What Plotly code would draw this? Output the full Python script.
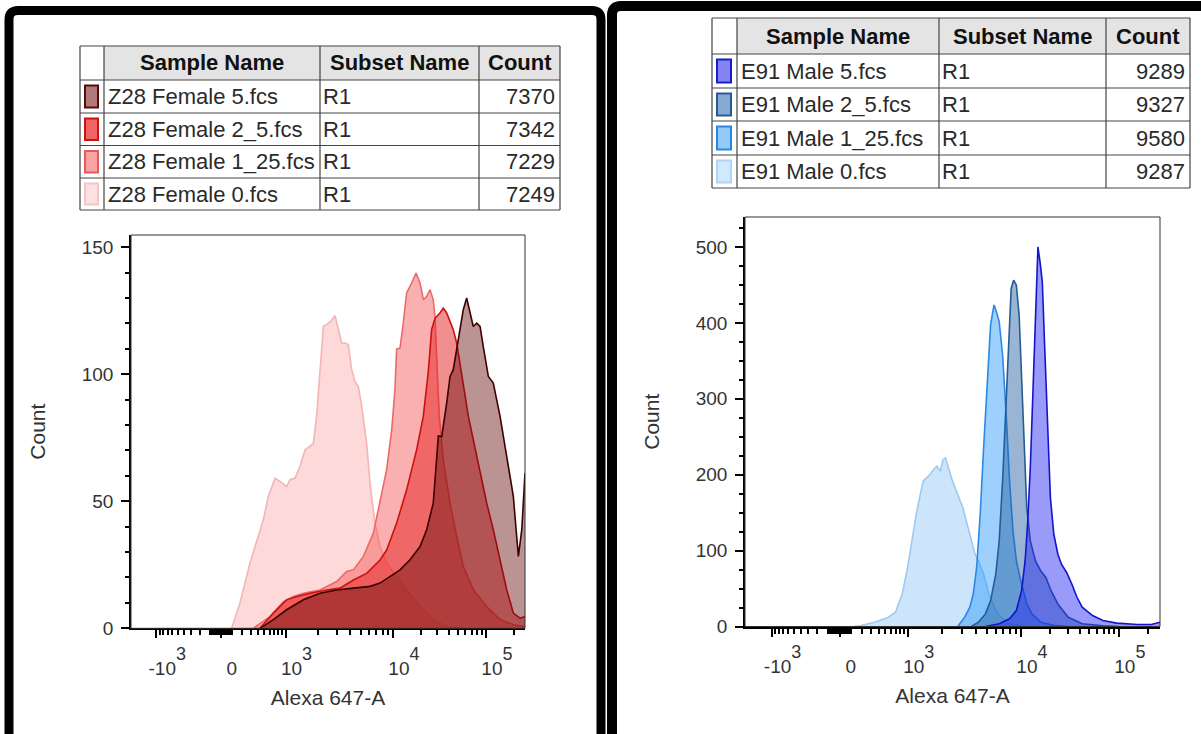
import math
import plotly.graph_objects as go

W, H = 1201, 734
FONT = "Liberation Sans, Arial, sans-serif"
TXT = "#2a2a2a"

# ---------------- table contents ----------------
TABLE_HEADERS = ["Sample Name", "Subset Name", "Count"]
FEMALE_SAMPLES = ["Z28 Female 5.fcs", "Z28 Female 2_5.fcs", "Z28 Female 1_25.fcs", "Z28 Female 0.fcs"]
FEMALE_SUBSETS = ["R1", "R1", "R1", "R1"]
FEMALE_COUNTS = [7370, 7342, 7229, 7249]
MALE_SAMPLES = ["E91 Male 5.fcs", "E91 Male 2_5.fcs", "E91 Male 1_25.fcs", "E91 Male 0.fcs"]
MALE_SUBSETS = ["R1", "R1", "R1", "R1"]
MALE_COUNTS = [9289, 9327, 9580, 9287]

# ---------------- histograms (x in display channels 0..256) ----------------
F5_CH = [83.8, 92.5, 101.1, 112.0, 122.8, 133.6, 144.5, 155.3, 161.8, 168.3, 174.8, 181.3, 187.8,
         192.1, 196.4, 199.7, 201.9, 205.1, 207.3, 209.4, 211.6, 213.8, 215.9, 218.1, 220.3, 222.4,
         224.6, 226.8, 228.9, 232.2, 235.4, 239.8, 244.1, 248.4, 250.6, 251.7, 253.9, 255.0, 256.0]
F5_CT = [0, 3.4, 7.3, 11.2, 13.8, 15.1, 15.8, 16.5, 17.8, 20.4, 23.0, 27.0, 32.2,
         38.8, 49.3, 75.7, 75.5, 88.6, 99.1, 101.8, 109.6, 117.5, 125.4, 130.0, 124.1, 118.8,
         120.1, 118.8, 110.9, 99.1, 96.5, 83.4, 67.7, 52.0, 36.2, 28.3, 38.8, 52.0, 61.1]

F25_CH = [83.8, 92.5, 101.1, 107.6, 116.3, 127.1, 135.8, 144.5, 153.1, 161.8, 166.1, 172.6, 179.1,
          185.6, 189.9, 193.1, 195.3, 197.5, 200.7, 202.9, 205.1, 209.4, 211.6, 215.9, 219.2, 222.4,
          226.8, 231.1, 235.4, 239.8, 244.1, 248.4, 252.8, 256.0]
F25_CT = [0, 6.0, 11.2, 12.5, 13.8, 15.1, 15.8, 19.0, 21.6, 26.9, 30.8, 41.4, 54.5,
          70.3, 83.4, 100.5, 117.5, 122.0, 124.1, 126.0, 124.1, 117.5, 112.3, 96.5, 83.4, 74.2,
          61.1, 49.3, 38.8, 27.0, 15.2, 6.0, 4.0, 4.6]

F125_CH = [79.5, 90.3, 99.0, 105.5, 112.0, 122.8, 133.6, 140.1, 144.5, 151.0, 157.5, 161.8, 166.1,
           169.4, 171.5, 172.6, 174.8, 176.9, 179.1, 182.4, 185.2, 187.8, 190.0, 192.1, 194.3, 196.4,
           197.5, 198.6, 200.3, 202.9, 207.3, 211.6, 215.9, 222.4, 231.1, 239.8, 248.4, 256.0]
F125_CT = [0, 4.6, 10.5, 12.5, 13.8, 15.1, 18.4, 22.4, 23.0, 28.3, 37.5, 49.3, 62.4,
           78.1, 94.0, 109.9, 110.3, 120.1, 132.0, 136.0, 139.8, 135.9, 129.3, 130.6, 133.3, 129.3,
           122.7, 106.9, 83.4, 66.3, 49.3, 36.2, 24.4, 15.2, 8.6, 3.4, 1.4, 0.7]

F0_CH = [65.4, 70.8, 77.3, 81.7, 86.0, 89.2, 93.6, 96.8, 101.1, 103.3, 106.6, 109.8, 113.1, 116.3,
         118.5, 120.6, 122.8, 125.0, 127.1, 129.7, 132.6, 134.7, 136.9, 139.1, 141.2, 143.4, 145.5,
         147.7, 149.9, 153.1, 155.3, 158.5, 161.8, 166.1, 172.6, 179.1, 187.8, 196.4, 205.1, 215.0]
F0_CT = [0, 9.9, 25.7, 34.8, 42.7, 51.9, 59.1, 57.8, 55.8, 58.5, 59.1, 63.7, 70.3, 71.6,
         72.9, 83.4, 101.8, 118.9, 119.5, 120.8, 123.0, 117.5, 112.3, 112.3, 111.7, 101.8, 97.2,
         95.2, 87.4, 72.9, 57.2, 41.4, 32.2, 25.7, 20.4, 15.2, 8.6, 3.4, 0.7, 0]

M5_CH = [148.3, 156.8, 163.2, 167.4, 170.6, 172.8, 174.3, 176.0, 177.7, 179.2, 180.7, 182.0, 183.4,
         184.9, 186.6, 188.4, 190.5, 193.0, 195.2, 198.4, 201.6, 204.8, 208.0, 214.4, 220.8, 229.3,
         242.1, 250.6, 256.0]
M5_CT = [0, 3.5, 10.1, 21.0, 47.3, 86.7, 134.8, 209.1, 314.1, 419.1, 500.0, 480.3, 454.1,
         366.6, 257.2, 169.7, 121.5, 95.3, 82.1, 71.2, 56.0, 38.5, 25.4, 14.4, 7.9, 4.4,
         2.6, 2.6, 5.7]

M25_CH = [139.7, 144.0, 148.3, 151.5, 154.7, 156.8, 158.9, 161.1, 162.8, 164.2, 165.7, 167.4, 169.1,
          170.6, 172.1, 173.8, 176.0, 179.2, 182.4, 185.6, 188.8, 193.0, 199.4, 208.0, 220.8, 230.0]
M25_CT = [0, 5.7, 16.6, 34.1, 69.0, 112.7, 191.5, 296.6, 384.1, 445.3, 456.2, 449.7, 410.3,
          331.6, 235.4, 156.5, 112.7, 86.5, 73.4, 64.7, 47.2, 29.7, 12.2, 3.5, 0.9, 0]

M125_CH = [131.2, 135.5, 138.7, 140.8, 142.9, 145.1, 147.2, 149.3, 151.5, 153.6, 155.1, 156.8, 158.9,
           161.1, 163.2, 165.3, 167.4, 169.6, 171.7, 173.8, 177.0, 182.4, 190.9, 200.0]
M125_CT = [0, 12.2, 25.4, 42.8, 77.8, 148.0, 235.5, 323.0, 397.3, 423.6, 414.8, 401.7, 358.0,
           279.2, 191.7, 126.1, 86.7, 64.8, 47.3, 29.7, 16.6, 5.7, 1.3, 0]

M0_CH = [67.2, 71.5, 80.0, 88.5, 92.8, 97.0, 100.3, 103.5, 105.6, 107.7, 109.9, 112.0, 114.1, 116.3,
         118.4, 120.5, 122.2, 123.7, 125.9, 128.0, 131.2, 134.4, 137.6, 139.7, 141.9, 144.0, 147.2,
         150.4, 154.7, 158.9, 163.2, 169.6, 175.0]
M0_CT = [0, 1.3, 5.7, 12.2, 18.8, 42.8, 77.8, 121.5, 147.7, 169.6, 191.5, 195.8, 200.2, 206.8,
         211.1, 204.6, 219.9, 222.1, 204.6, 191.5, 174.0, 156.5, 130.2, 112.7, 95.2, 86.5, 69.0,
         42.8, 21.0, 10.1, 3.5, 0.9, 0]

# ---------------- styling per series (legend order: 5, 2_5, 1_25, 0) ----------------
FEMALE_LINE = ["#3c0000", "#cc1111", "#ea6a6a", "#f4b4b4"]
FEMALE_FILL = ["rgba(100,10,10,0.44)", "rgba(228,30,30,0.50)", "rgba(245,80,80,0.45)", "rgba(250,170,170,0.45)"]
FEMALE_SW_FILL = ["#b07a7a", "#f06464", "#f8a4a4", "#fde0e0"]
FEMALE_SW_LINE = ["#5a0a0a", "#c81414", "#e85a5a", "#f6c4c4"]

MALE_LINE = ["#1414cc", "#265c92", "#2a8ae6", "#9ccaf2"]
MALE_FILL = ["rgba(30,30,240,0.45)", "rgba(30,90,160,0.45)", "rgba(40,150,250,0.45)", "rgba(130,190,245,0.40)"]
MALE_SW_FILL = ["#8484f2", "#86aad2", "#94caf8", "#d2e8fb"]
MALE_SW_LINE = ["#1a1ad0", "#285a90", "#2888e0", "#b0d4f4"]

FEMALE_X = [F5_CH, F25_CH, F125_CH, F0_CH]
FEMALE_Y = [F5_CT, F25_CT, F125_CT, F0_CT]
MALE_X = [M5_CH, M25_CH, M125_CH, M0_CH]
MALE_Y = [M5_CT, M25_CT, M125_CT, M0_CT]

# ---------------- biexponential display scale ----------------
DECADE_CH = {3: 100.4, 4: 170.2, 5: 230.6, 6: 291.0}
ZERO_CH = 58.4
LIN_W = 300.0


def biex(v):
    """Channel position of a raw value on the biexponential axis."""
    if abs(v) <= 1000:
        s = 1 if v >= 0 else -1
        return ZERO_CH + s * (DECADE_CH[3] - ZERO_CH) * math.asinh(abs(v) / LIN_W) / math.asinh(1000 / LIN_W)
    if v > 0:
        k = int(math.floor(math.log10(v)))
        f = math.log10(v) - k
        return DECADE_CH[k] + (DECADE_CH[k + 1] - DECADE_CH[k]) * f
    return 2 * ZERO_CH - biex(-v)


SUP = "<span style='font-size:18px;baseline-shift:15px'>{}</span>"
MAJOR_VALUES = [-1000, 0, 1000, 10000, 100000]
MAJOR_TEXT = ["-10" + SUP.format(3), "0", "10" + SUP.format(3), "10" + SUP.format(4), "10" + SUP.format(5)]
MINOR_VALUES = ([-m * 100 for m in range(1, 10)] + [-m * 10 for m in range(1, 10)] +
                [m * 10 for m in range(1, 10)] + [m * 100 for m in range(1, 10)] +
                [m * 1000 for m in range(2, 10)] + [m * 10000 for m in range(2, 10)] + [200000])

FEMALE_YTICKS = [0, 50, 100, 150]
MALE_YTICKS = [0, 100, 200, 300, 400, 500]


def px(x):
    return x / W


def py(y):
    return 1 - y / H


fig = go.Figure()

panels = [
    dict(xa="x", ya="y", X=FEMALE_X, Y=FEMALE_Y, line=FEMALE_LINE, fill=FEMALE_FILL),
    dict(xa="x2", ya="y2", X=MALE_X, Y=MALE_Y, line=MALE_LINE, fill=MALE_FILL),
]
for p in panels:
    # draw the untreated sample first so the highest dose sits on top
    for i in reversed(range(4)):
        fig.add_trace(go.Scatter(
            x=p["X"][i], y=p["Y"][i], mode="lines", fill="tozeroy",
            fillcolor=p["fill"][i], line=dict(color=p["line"][i], width=1.6),
            xaxis=p["xa"], yaxis=p["ya"], hoverinfo="skip", showlegend=False))

tick_font = dict(family=FONT, size=19, color="#333")
title_font = dict(family=FONT, size=21, color="#333")

xaxis_common = dict(
    range=[0, 256], showgrid=False, zeroline=False, showline=True, linecolor="black", linewidth=2,
    ticks="outside", ticklen=8, tickwidth=2, tickcolor="black", automargin=False,
    tickmode="array", tickvals=[biex(v) for v in MAJOR_VALUES], ticktext=MAJOR_TEXT,
    minor=dict(tickmode="array", tickvals=[biex(v) for v in MINOR_VALUES], ticks="outside",
               ticklen=5, tickwidth=1.5, tickcolor="black"),
    tickfont=tick_font, ticklabelshift=11, ticklabelstandoff=14,
    title=dict(text="Alexa 647-A", font=title_font, standoff=12),
)
yaxis_common = dict(
    showgrid=False, zeroline=False, showline=True, linecolor="black", linewidth=1.5,
    ticks="outside", ticklen=8, tickwidth=2, tickcolor="black", automargin=False,
    tickfont=tick_font, ticklabelstandoff=4,
    title=dict(text="Count", font=title_font, standoff=30),
)

fig.update_layout(
    width=W, height=H, margin=dict(l=0, r=0, t=0, b=0),
    paper_bgcolor="white", plot_bgcolor="white",
    xaxis=dict(domain=[px(131), px(525)], anchor="y", **xaxis_common),
    yaxis=dict(domain=[py(628.3), py(235)], anchor="x", range=[0, 154.8],
               tickmode="array", tickvals=FEMALE_YTICKS,
               minor=dict(dtick=10, ticks="outside", ticklen=4, tickwidth=1.5, tickcolor="black"),
               **yaxis_common),
    xaxis2=dict(domain=[px(745), px(1160)], anchor="y2", **xaxis_common),
    yaxis2=dict(domain=[py(626.5), py(217)], anchor="x2", range=[0, 539.5],
                tickmode="array", tickvals=MALE_YTICKS,
                minor=dict(dtick=25, ticks="outside", ticklen=4, tickwidth=1.5, tickcolor="black"),
                **yaxis_common),
)

shapes = []
annotations = []

# thin frame around each plot area
for xr, yr in (("x domain", "y domain"), ("x2 domain", "y2 domain")):
    shapes.append(dict(type="rect", xref=xr, yref=yr, x0=0, x1=1, y0=0, y1=1,
                       line=dict(color="#333", width=1), layer="above"))


def panel_outline(x0, y0, x1, y1, r):
    return (f"M {px(x0)},{py(y1)} L {px(x0)},{py(y0 + r)} Q {px(x0)},{py(y0)} {px(x0 + r)},{py(y0)} "
            f"L {px(x1 - r)},{py(y0)} Q {px(x1)},{py(y0)} {px(x1)},{py(y0 + r)} L {px(x1)},{py(y1)}")


shapes.append(dict(type="path", xref="paper", yref="paper", path=panel_outline(9, 10.5, 601, 760, 9),
                   line=dict(color="black", width=9)))
shapes.append(dict(type="path", xref="paper", yref="paper", path=panel_outline(612, 6, 1230, 760, 9),
                   line=dict(color="black", width=10)))


def draw_table(cols, rows, samples, subsets, counts, sw_fill, sw_line):
    x0, x1 = cols[0], cols[-1]
    # header band
    shapes.append(dict(type="rect", xref="paper", yref="paper", x0=px(cols[1]), x1=px(x1),
                       y0=py(rows[1]), y1=py(rows[0]), fillcolor="#e4e4e4", line=dict(width=0)))
    # grid
    for yy in rows:
        shapes.append(dict(type="line", xref="paper", yref="paper", x0=px(x0), x1=px(x1),
                           y0=py(yy), y1=py(yy), line=dict(color="#444", width=1.2)))
    for xx in cols:
        shapes.append(dict(type="line", xref="paper", yref="paper", x0=px(xx), x1=px(xx),
                           y0=py(rows[0]), y1=py(rows[-1]), line=dict(color="#444", width=1.2)))
    # header text
    for j, head in enumerate(TABLE_HEADERS):
        annotations.append(dict(xref="paper", yref="paper", x=px((cols[j + 1] + cols[j + 2]) / 2),
                                y=py((rows[0] + rows[1]) / 2), text=f"<b>{head}</b>", showarrow=False,
                                xanchor="center", yanchor="middle",
                                font=dict(family=FONT, size=22, color="#111")))
    for i in range(4):
        top, bot = rows[i + 1], rows[i + 2]
        mid = (top + bot) / 2
        shapes.append(dict(type="rect", xref="paper", yref="paper",
                           x0=px(cols[0] + 5), x1=px(cols[1] - 6), y0=py(bot - 5.5), y1=py(top + 5.5),
                           fillcolor=sw_fill[i], line=dict(color=sw_line[i], width=2)))
        annotations.append(dict(xref="paper", yref="paper", x=px(cols[1] + 2), y=py(mid),
                                text=samples[i], showarrow=False, xanchor="left", yanchor="middle",
                                font=dict(family=FONT, size=22, color=TXT)))
        annotations.append(dict(xref="paper", yref="paper", x=px(cols[2] + 1), y=py(mid),
                                text=subsets[i], showarrow=False, xanchor="left", yanchor="middle",
                                font=dict(family=FONT, size=22, color=TXT)))
        annotations.append(dict(xref="paper", yref="paper", x=px(cols[4] - 3), y=py(mid),
                                text=str(counts[i]), showarrow=False, xanchor="right", yanchor="middle",
                                font=dict(family=FONT, size=22, color=TXT)))


draw_table([80, 104, 320, 479, 560], [46, 80, 113, 145.5, 178, 210],
           FEMALE_SAMPLES, FEMALE_SUBSETS, FEMALE_COUNTS, FEMALE_SW_FILL, FEMALE_SW_LINE)
draw_table([712, 737, 939, 1106, 1190], [18, 54, 88, 121, 155, 188],
           MALE_SAMPLES, MALE_SUBSETS, MALE_COUNTS, MALE_SW_FILL, MALE_SW_LINE)

fig.update_layout(shapes=shapes, annotations=annotations)
fig.write_html("out.html")
